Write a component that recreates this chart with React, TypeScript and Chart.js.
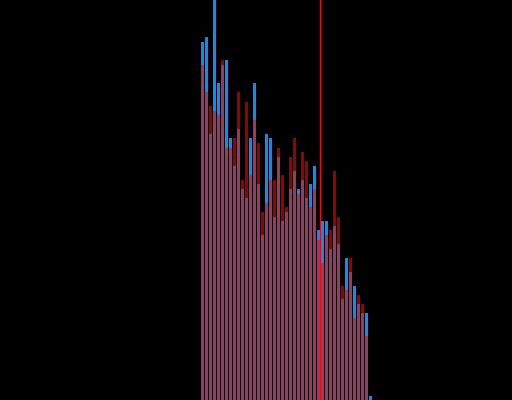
import React, { useEffect, useRef } from "react";
import { Chart, registerables } from "chart.js";

Chart.register(...registerables);

// Histogram bins: 128 bins in total, data occupies bins 50..92
const totalBins = 128;
const firstBin = 50;

const binLabels: string[] = Array.from({ length: totalBins }, (_, i) => String(i));

// Counts per bin, starting at firstBin
const blueCounts = [
  358, 363, 266, 404, 317, 335, 340, 262, 234, 271,
  211, 202, 262, 317, 216, 165, 266, 262, 183, 243,
  179, 188, 211, 229, 211, 220, 202, 216, 234, 170,
  179, 179, 151, 174, 156, 101, 142, 128, 114, 96,
  87, 87, 4,
];

const redCounts = [
  335, 308, 294, 289, 285, 340, 252, 252, 262, 308,
  220, 298, 225, 280, 257, 188, 197, 220, 220, 252,
  225, 193, 243, 262, 206, 248, 239, 193, 211, 160,
  137, 165, 170, 229, 183, 114, 110, 142, 82, 105,
  96, 64, 0,
];

// Position of the vertical marker (bin boundary between 79 and 80)
const markerBin = 79.5;

function spread(values: number[]): (number | null)[] {
  const out: (number | null)[] = new Array(totalBins).fill(null);
  values.forEach((v, i) => {
    out[firstBin + i] = v;
  });
  return out;
}

const markerLine = {
  id: "markerLine",
  afterDatasetsDraw(chart: any) {
    const { ctx, chartArea, scales } = chart;
    // snap to the pixel grid so the 1px line stays sharp
    const x = Math.floor(scales.x.getPixelForValue(markerBin)) + 0.5;
    ctx.save();
    ctx.strokeStyle = "#ff0000";
    ctx.lineWidth = 1;
    ctx.beginPath();
    ctx.moveTo(x, chartArea.top);
    ctx.lineTo(x, chartArea.bottom);
    ctx.stroke();
    ctx.restore();
  },
};

export default function App() {
  const canvasRef = useRef<HTMLCanvasElement | null>(null);

  useEffect(() => {
    if (!canvasRef.current) return;
    const chart = new Chart(canvasRef.current, {
      type: "bar",
      data: {
        labels: binLabels,
        datasets: [
          {
            label: "red",
            data: spread(redCounts),
            backgroundColor: "rgba(255, 0, 0, 0.6)",
            grouped: false,
            categoryPercentage: 1,
            barPercentage: 0.75,
          },
          {
            label: "blue",
            data: spread(blueCounts),
            backgroundColor: "rgb(10, 140, 255)",
            grouped: false,
            categoryPercentage: 1,
            barPercentage: 0.75,
          },
        ],
      },
      options: {
        responsive: false,
        animation: false,
        // half-pixel shift keeps the 3px bars on whole pixels
        layout: { padding: { left: 0.5, right: 0.5, top: 0, bottom: 0 } },
        plugins: {
          legend: { display: false },
          tooltip: { enabled: false },
        },
        scales: {
          x: { display: false },
          y: { display: false, min: 0, max: 400 },
        },
      },
      plugins: [markerLine],
    });
    return () => chart.destroy();
  }, []);

  return (
    <div style={{ position: "fixed", inset: 0, background: "#000", overflow: "hidden" }}>
      <canvas ref={canvasRef} width={513} height={400} style={{ display: "block" }} />
    </div>
  );
}
